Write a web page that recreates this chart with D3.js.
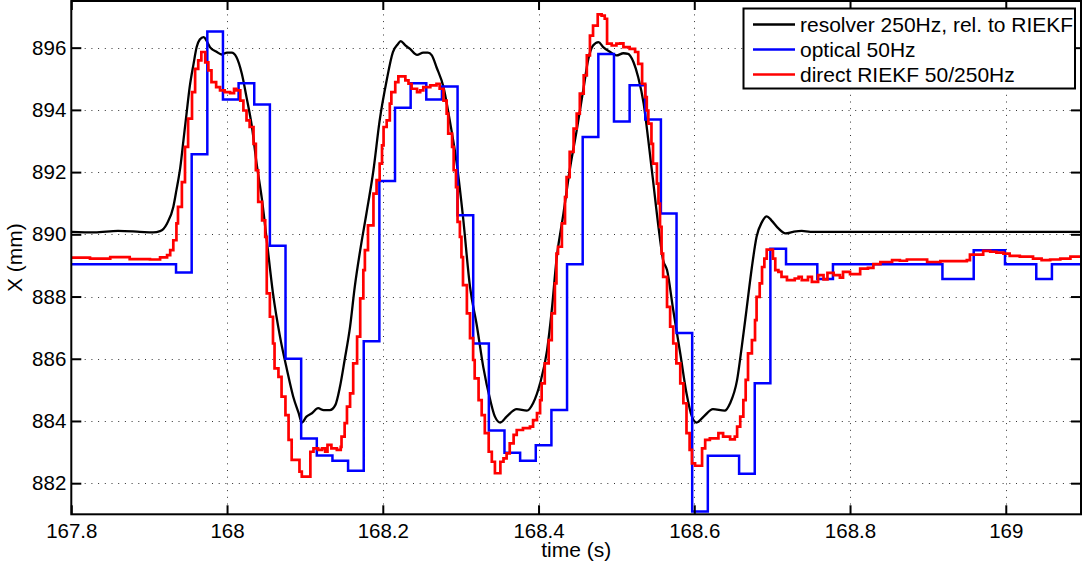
<!DOCTYPE html>
<html>
<head>
<meta charset="utf-8">
<script src="https://cdn.jsdelivr.net/npm/d3@7"></script>
<style>
body { margin: 0; background: white; }
text { font-family: "Liberation Sans", Arial, Helvetica, sans-serif; }
</style>
</head>
<body>
<script>
// resolver 250Hz, rel. to RIEKF (black)
var resolverT = [167.800, 167.830, 167.860, 167.888, 167.905, 167.914, 167.923, 167.931, 167.935, 167.940,
                 167.944, 167.948, 167.952, 167.957, 167.961, 167.965, 167.970, 167.974, 167.978, 167.987,
                 167.993, 168.000, 168.006, 168.012, 168.019, 168.025, 168.032, 168.038, 168.045, 168.051,
                 168.059, 168.068, 168.077, 168.085, 168.092, 168.096, 168.102, 168.109, 168.117, 168.124,
                 168.132, 168.139, 168.145, 168.151, 168.158, 168.164, 168.171, 168.179, 168.188, 168.196,
                 168.205, 168.213, 168.219, 168.223, 168.229, 168.235, 168.244, 168.252, 168.258, 168.263,
                 168.269, 168.278, 168.286, 168.295, 168.303, 168.312, 168.321, 168.329, 168.338, 168.344,
                 168.351, 168.359, 168.372, 168.385, 168.393, 168.402, 168.411, 168.417, 168.423, 168.432,
                 168.440, 168.449, 168.458, 168.464, 168.470, 168.477, 168.483, 168.492, 168.500, 168.509,
                 168.515, 168.522, 168.528, 168.535, 168.541, 168.547, 168.554, 168.560, 168.565, 168.573,
                 168.582, 168.590, 168.597, 168.603, 168.612, 168.624, 168.639, 168.646, 168.655, 168.661,
                 168.667, 168.674, 168.680, 168.687, 168.693, 168.699, 168.708, 168.717, 168.727, 168.738,
                 168.749, 169.100]
var resolverX = [890.08, 890.06, 890.11, 890.08, 890.06, 890.10, 890.35, 890.88, 891.42, 892.16,
                 893.02, 893.88, 894.73, 895.48, 896.02, 896.26, 896.34, 896.21, 896.02, 895.86,
                 895.78, 895.84, 895.84, 895.70, 895.16, 894.41, 893.45, 892.27, 891.09, 889.81,
                 888.10, 886.71, 885.64, 884.78, 884.25, 883.95, 884.14, 884.25, 884.41, 884.35,
                 884.35, 884.51, 885.10, 885.96, 887.03, 888.31, 889.49, 890.67, 892.06, 893.66,
                 894.95, 895.86, 896.10, 896.21, 896.07, 895.96, 895.77, 895.84, 895.84, 895.75,
                 895.37, 894.73, 893.66, 892.27, 890.56, 888.31, 887.03, 885.74, 884.67, 884.14,
                 883.95, 884.14, 884.38, 884.33, 884.57, 885.21, 886.28, 887.56, 889.17, 890.67,
                 892.06, 893.34, 894.73, 895.64, 896.07, 896.18, 896.02, 895.86, 895.75, 895.82,
                 895.80, 895.53, 895.05, 894.20, 893.02, 891.74, 890.24, 889.17, 888.85, 887.56,
                 886.17, 884.89, 884.14, 883.95, 884.14, 884.38, 884.33, 884.57, 885.32, 886.39,
                 887.56, 888.95, 889.92, 890.40, 890.58, 890.45, 890.19, 890.03, 890.08, 890.11,
                 890.08, 890.08]

// optical 50Hz (blue), one held value per sample
var opticalT0 = 167.7939
var opticalDt = 0.020085
var opticalX = [889.04, 889.04, 889.04, 889.04, 889.04, 889.04, 889.04,
                888.77, 892.57, 896.52, 894.33, 894.86, 894.17, 889.63, 886.00, 883.44, 882.89,
                882.72, 882.40, 886.56, 891.71, 894.07, 894.86, 894.33, 894.75, 890.61, 886.49,
                883.69, 882.98, 882.72, 883.22, 884.35, 889.04, 893.13, 895.80, 893.63, 894.79,
                893.69, 890.67, 886.83, 881.09, 882.88, 882.88, 882.30, 885.21, 889.54, 889.04,
                889.04, 888.56, 889.04, 889.04, 889.04, 889.04, 889.04, 889.04, 889.04, 888.56,
                888.56, 889.49, 889.49, 889.04, 889.04, 888.56, 889.04, 889.04, 889.04]

// direct RIEKF 50/250Hz (red)
var riekfT = [167.800, 167.824, 167.850, 167.875, 167.901, 167.914, 167.923, 167.927, 167.931, 167.935,
              167.937, 167.942, 167.946, 167.950, 167.955, 167.959, 167.963, 167.967, 167.972, 167.976,
              167.980, 167.986, 167.991, 167.997, 168.004, 168.009, 168.012, 168.017, 168.021, 168.025,
              168.029, 168.034, 168.037, 168.040, 168.045, 168.049, 168.051, 168.055, 168.059, 168.061,
              168.066, 168.070, 168.075, 168.079, 168.083, 168.093, 168.096, 168.107, 168.111, 168.117,
              168.122, 168.126, 168.129, 168.134, 168.141, 168.146, 168.147, 168.151, 168.154, 168.158,
              168.162, 168.167, 168.171, 168.175, 168.177, 168.181, 168.188, 168.192, 168.196, 168.199,
              168.201, 168.205, 168.209, 168.211, 168.216, 168.220, 168.229, 168.233, 168.237, 168.244,
              168.248, 168.252, 168.261, 168.269, 168.273, 168.278, 168.282, 168.284, 168.289, 168.291,
              168.294, 168.296, 168.299, 168.301, 168.303, 168.308, 168.312, 168.316, 168.318, 168.323,
              168.327, 168.331, 168.336, 168.340, 168.344, 168.351, 168.355, 168.359, 168.363, 168.368,
              168.372, 168.380, 168.389, 168.393, 168.398, 168.402, 168.404, 168.408, 168.413, 168.417,
              168.421, 168.423, 168.425, 168.430, 168.434, 168.436, 168.440, 168.445, 168.449, 168.453,
              168.458, 168.462, 168.466, 168.470, 168.476, 168.481, 168.485, 168.488, 168.494, 168.500,
              168.505, 168.509, 168.517, 168.524, 168.528, 168.533, 168.537, 168.539, 168.541, 168.545,
              168.547, 168.552, 168.554, 168.556, 168.558, 168.560, 168.565, 168.569, 168.573, 168.577,
              168.582, 168.586, 168.590, 168.594, 168.597, 168.601, 168.610, 168.614, 168.620, 168.631,
              168.637, 168.646, 168.652, 168.655, 168.659, 168.663, 168.666, 168.669, 168.674, 168.678,
              168.680, 168.684, 168.687, 168.690, 168.693, 168.701, 168.704, 168.708, 168.712, 168.719,
              168.729, 168.734, 168.738, 168.746, 168.751, 168.759, 168.766, 168.771, 168.779, 168.787,
              168.791, 168.800, 168.813, 168.823, 168.830, 168.839, 168.854, 168.864, 168.873, 168.890,
              168.899, 168.916, 168.950, 168.954, 168.971, 168.980, 168.988, 168.997, 169.005, 169.018,
              169.035, 169.046, 169.057, 169.070, 169.083, 169.100]
var riekfX = [889.25, 889.22, 889.27, 889.20, 889.19, 889.26, 889.33, 889.49, 889.81, 890.35,
              890.88, 891.68, 892.81, 893.72, 894.57, 895.32, 895.59, 895.86, 895.53, 895.27,
              894.89, 894.73, 894.63, 894.57, 894.54, 894.68, 894.63, 894.30, 893.98, 893.66,
              893.45, 892.91, 892.06, 891.04, 890.45, 889.92, 888.10, 887.35, 886.49, 885.69,
              885.42, 884.78, 884.19, 883.39, 882.75, 882.37, 882.21, 883.01, 883.12, 883.07,
              883.12, 883.01, 883.23, 883.12, 883.07, 883.17, 883.50, 883.93, 884.46, 884.89,
              885.85, 886.71, 887.94, 888.85, 889.49, 890.29, 891.31, 891.74, 892.27, 892.86,
              893.45, 893.66, 894.20, 894.57, 894.89, 895.08, 894.95, 894.84, 894.68, 894.57,
              894.63, 894.73, 894.79, 894.84, 894.68, 894.30, 893.88, 893.24, 892.81, 892.06,
              891.52, 890.40, 889.92, 889.27, 888.37, 887.46, 886.66, 885.96, 885.37, 884.67,
              884.19, 883.61, 883.01, 882.69, 882.32, 882.69, 882.80, 882.96, 883.28, 883.55,
              883.71, 883.77, 883.82, 884.03, 884.25, 884.67, 885.21, 885.85, 886.60, 887.46,
              888.42, 889.38, 889.60, 890.35, 891.20, 891.84, 892.65, 893.40, 893.88, 894.52,
              895.11, 895.75, 896.39, 896.71, 897.07, 897.03, 896.93, 896.13, 896.07, 896.13,
              896.14, 896.02, 895.96, 895.86, 895.48, 894.84, 894.41, 893.98, 893.56, 892.91,
              892.27, 891.63, 890.99, 890.24, 889.38, 888.63, 887.67, 887.03, 886.49, 885.85,
              885.21, 884.57, 883.61, 883.07, 882.64, 882.56, 883.12, 883.39, 883.44, 883.61,
              883.50, 883.41, 883.50, 883.82, 884.14, 884.67, 885.32, 886.17, 886.60, 887.24,
              887.99, 888.42, 888.95, 889.22, 889.51, 889.22, 888.85, 888.79, 888.63, 888.53,
              888.58, 888.63, 888.53, 888.63, 888.47, 888.69, 888.55, 888.76, 888.69, 888.61,
              888.79, 888.72, 888.90, 888.92, 889.04, 889.11, 889.17, 889.15, 889.19, 889.19,
              889.11, 889.14, 889.17, 889.35, 889.47, 889.44, 889.41, 889.38, 889.31, 889.28,
              889.22, 889.17, 889.19, 889.22, 889.28, 889.33]

var xTicks = [167.8, 168, 168.2, 168.4, 168.6, 168.8, 169]
var yTicks = [882, 884, 886, 888, 890, 892, 894, 896]
var seriesNames = ["resolver 250Hz, rel. to RIEKF", "optical 50Hz", "direct RIEKF 50/250Hz"]
var seriesColors = ["black", "blue", "red"]

var w = 1083
var h = 565
var plotLeft = 71.3, plotRight = 1081, plotTop = 1, plotBottom = 514.3

var x = d3.scaleLinear().domain([167.8, 169.0966]).range([plotLeft, plotRight])
var y = d3.scaleLinear().domain([881, 897.5]).range([plotBottom, plotTop])

var svg = d3.select("body")
            .append("svg")
            .attr("width", w)
            .attr("height", h)
            .style("background", "white")

svg.append("clipPath")
    .attr("id", "plot-clip")
    .append("rect")
    .attr("x", plotLeft)
    .attr("y", plotTop)
    .attr("width", plotRight - plotLeft)
    .attr("height", plotBottom - plotTop)

// dotted grid
var grid = svg.append("g").attr("stroke", "#333").attr("stroke-width", 1).attr("stroke-dasharray", "1,5.7")
grid.selectAll(".vgrid")
    .data(xTicks.slice(1))
    .enter()
    .append("line")
    .attr("x1", d => Math.round(x(d)) + 0.5)
    .attr("x2", d => Math.round(x(d)) + 0.5)
    .attr("y1", plotTop)
    .attr("y2", plotBottom)
grid.selectAll(".hgrid")
    .data(yTicks)
    .enter()
    .append("line")
    .attr("x1", plotLeft)
    .attr("x2", plotRight)
    .attr("y1", d => Math.round(y(d)) + 0.5)
    .attr("y2", d => Math.round(y(d)) + 0.5)

// series
var plot = svg.append("g").attr("clip-path", "url(#plot-clip)").attr("fill", "none")

var resolver = resolverT.map((t, i) => [t, resolverX[i]])
var optical = opticalX.map((v, i) => [opticalT0 + i * opticalDt, v])
var riekf = riekfT.map((t, i) => [t, riekfX[i]])

var smooth = d3.line().x(d => x(d[0])).y(d => y(d[1])).curve(d3.curveMonotoneX)
var stairs = d3.line().x(d => x(d[0])).y(d => y(d[1])).curve(d3.curveStepAfter)

plot.append("path")
    .attr("d", smooth(resolver))
    .attr("stroke", seriesColors[0])
    .attr("stroke-width", 2.3)
    .attr("stroke-linejoin", "round")

plot.append("path")
    .attr("d", stairs(optical))
    .attr("stroke", seriesColors[1])
    .attr("stroke-width", 2.5)

plot.append("path")
    .attr("d", stairs(riekf))
    .attr("stroke", seriesColors[2])
    .attr("stroke-width", 2.7)

// axes, ticks point inwards on all four sides
var fmt = d => String(+d.toFixed(1))
var axStyle = g => {
    g.select(".domain").remove()
    g.selectAll(".tick line").attr("stroke-width", 2)
    g.selectAll("text").attr("font-size", 20.5).attr("fill", "black")
        .style("font-family", "'Liberation Sans', Arial, sans-serif")
}

svg.append("g")
    .attr("transform", "translate(0," + plotBottom + ")")
    .call(d3.axisBottom(x).tickValues(xTicks).tickFormat(fmt).tickSizeInner(-9).tickSizeOuter(0).tickPadding(9))
    .call(axStyle)
svg.append("g")
    .attr("transform", "translate(0," + plotTop + ")")
    .call(d3.axisTop(x).tickValues(xTicks).tickFormat("").tickSizeInner(-9).tickSizeOuter(0))
    .call(axStyle)
svg.append("g")
    .attr("transform", "translate(" + plotLeft + ",0)")
    .call(d3.axisLeft(y).tickValues(yTicks).tickFormat(fmt).tickSizeInner(-10).tickSizeOuter(0).tickPadding(5))
    .call(axStyle)
svg.append("g")
    .attr("transform", "translate(" + plotRight + ",0)")
    .call(d3.axisRight(y).tickValues(yTicks).tickFormat("").tickSizeInner(-10).tickSizeOuter(0))
    .call(axStyle)

// frame
svg.append("rect")
    .attr("x", plotLeft)
    .attr("y", plotTop)
    .attr("width", plotRight - plotLeft)
    .attr("height", plotBottom - plotTop)
    .attr("fill", "none")
    .attr("stroke", "black")
    .attr("stroke-width", 2)

svg.append("text")
    .attr("x", (plotLeft + plotRight) / 2)
    .attr("y", 557)
    .attr("text-anchor", "middle")
    .attr("font-size", 21)
    .text("time (s)")

svg.append("text")
    .attr("transform", "translate(22," + (plotTop + plotBottom) / 2 + ") rotate(-90)")
    .attr("text-anchor", "middle")
    .attr("font-size", 21)
    .text("X (mm)")

// legend
var legend = svg.append("g")
legend.append("rect")
    .attr("x", 743.5)
    .attr("y", 8.5)
    .attr("width", 331.5)
    .attr("height", 80)
    .attr("fill", "white")
    .attr("stroke", "black")
    .attr("stroke-width", 2)

var rows = legend.selectAll(".row")
    .data(seriesNames)
    .enter()
    .append("g")
    .attr("transform", (d, i) => "translate(0," + (24.5 + i * 25) + ")")
rows.append("line")
    .attr("x1", 753)
    .attr("x2", 795)
    .attr("stroke", (d, i) => seriesColors[i])
    .attr("stroke-width", 2.5)
rows.append("text")
    .attr("x", 800)
    .attr("dy", "0.35em")
    .attr("font-size", 21)
    .text(d => d)
</script>
</body>
</html>
